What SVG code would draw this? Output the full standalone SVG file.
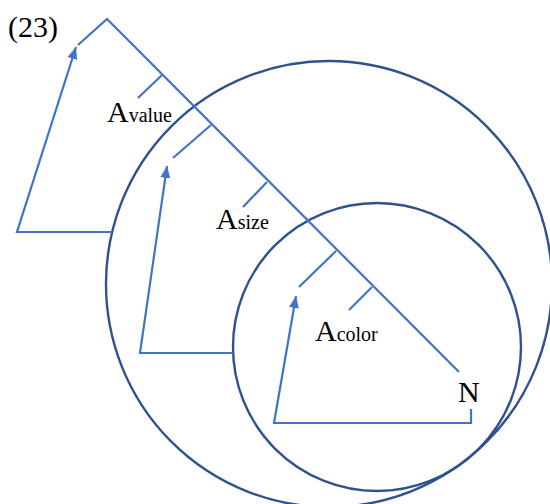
<svg xmlns="http://www.w3.org/2000/svg" width="550" height="504" viewBox="0 0 550 504">
<defs>
<style>
.ln{fill:none;stroke:#4472C4;stroke-width:2.2;stroke-linecap:butt;stroke-linejoin:miter}
.cir{fill:none;stroke:#2F528F;stroke-width:2.4}
.t{font-family:"Liberation Serif","Times New Roman",serif;fill:#000}
.big{font-size:30px}
.sub{font-size:20px}
</style>
<marker id="ah" markerUnits="userSpaceOnUse" markerWidth="13" markerHeight="13" viewBox="0 0 13 13" refX="12" refY="6.5" orient="auto">
<path d="M0,1.5 L12,6.5 L0,11.5 Z" fill="#4472C4"/>
</marker>
</defs>
<rect width="550" height="504" fill="#fff"/>
<g id="circles">
<circle id="outer-circle" class="cir" cx="329" cy="284" r="223"/>
<circle id="inner-circle" class="cir" cx="377" cy="347" r="144"/>
</g>
<g id="connectors">
<path class="ln" d="M78,45 L107,19 L459,372"/>
<line class="ln" x1="162" y1="75" x2="138" y2="98"/>
<line class="ln" x1="211" y1="125" x2="173" y2="158"/>
<line class="ln" x1="267" y1="182" x2="243" y2="207"/>
<line class="ln" x1="336" y1="251" x2="299" y2="287"/>
<line class="ln" x1="372" y1="287" x2="349" y2="310"/>
<path class="ln" d="M112,232 L17,232 L76,47" marker-end="url(#ah)"/>
<path class="ln" d="M233,353 L140,353 L167,166" marker-end="url(#ah)"/>
<path class="ln" d="M471,409 L471,423 L274,423 L296,296" marker-end="url(#ah)"/>
</g>
<g id="label-23"><text class="t" x="8" y="37" style="font-size:30px">(23)</text></g>
<g id="label-avalue"><text class="t" x="107" y="121.5"><tspan class="big">A</tspan><tspan class="sub">value</tspan></text></g>
<g id="label-asize"><text class="t" x="216" y="229"><tspan class="big">A</tspan><tspan class="sub">size</tspan></text></g>
<g id="label-acolor"><text class="t" x="315" y="340.5"><tspan class="big">A</tspan><tspan class="sub">color</tspan></text></g>
<g id="label-n"><text class="t big" x="458" y="401.5">N</text></g>
</svg>
